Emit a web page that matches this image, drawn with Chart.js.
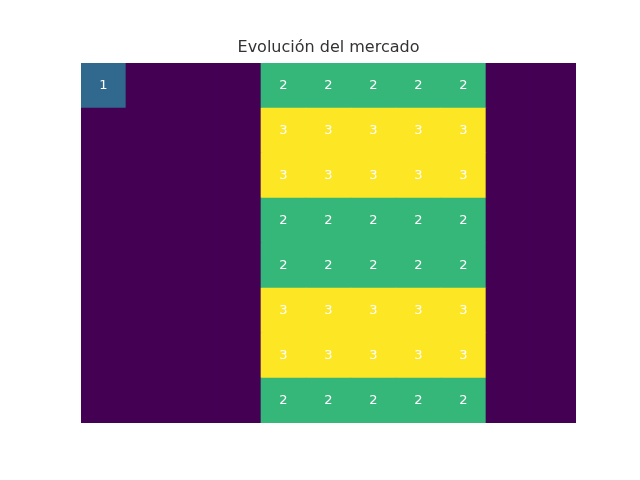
<!DOCTYPE html>
<html>
<head>
<meta charset="utf-8">
<script src="https://cdn.jsdelivr.net/npm/chart.js@4/dist/chart.umd.min.js"></script>
<style>
html,body{margin:0;padding:0;background:#fff;}
#wrap{width:640px;height:480px;}
</style>
</head>
<body>
<div id="wrap"><canvas id="c" width="640" height="480"></canvas></div>
<script>
const columns = ["0","1","2","3","4","5","6","7","8","9","10"];
const rows = ["0","1","2","3","4","5","6","7"];
const values = [
  [1,0,0,0,2,2,2,2,2,0,0],
  [0,0,0,0,3,3,3,3,3,0,0],
  [0,0,0,0,3,3,3,3,3,0,0],
  [0,0,0,0,2,2,2,2,2,0,0],
  [0,0,0,0,2,2,2,2,2,0,0],
  [0,0,0,0,3,3,3,3,3,0,0],
  [0,0,0,0,3,3,3,3,3,0,0],
  [0,0,0,0,2,2,2,2,2,0,0]
];
const palette = ["#440154","#31688e","#35b779","#fde725"];
const titleText = "Evolución del mercado";

// stacked bars: bottom row first
const datasets = rows.slice().reverse().map((r, i) => {
  const rowIdx = rows.length - 1 - i;
  const vals = values[rowIdx];
  return {
    label: "row " + r,
    data: vals.map(() => 1),
    cellValues: vals,
    backgroundColor: vals.map(v => palette[v]),
    borderWidth: 0,
    barPercentage: 1,
    categoryPercentage: 1
  };
});

const cellLabels = {
  id: 'cellLabels',
  afterDatasetsDraw(chart) {
    const ctx = chart.ctx;
    ctx.save();
    ctx.font = '13px "DejaVu Sans"';
    ctx.fillStyle = '#ffffff';
    ctx.textAlign = 'center';
    ctx.textBaseline = 'middle';
    chart.data.datasets.forEach((ds, di) => {
      const meta = chart.getDatasetMeta(di);
      meta.data.forEach((el, j) => {
        const v = ds.cellValues[j];
        if (v === 0) return;
        const cx = el.x;
        const cy = (el.y + el.base) / 2;
        ctx.fillText(String(v), cx, cy);
      });
    });
    ctx.restore();
  }
};

new Chart(document.getElementById('c'), {
  type: 'bar',
  data: { labels: columns, datasets },
  options: {
    responsive: false,
    animation: false,
    layout: { padding: { left: 81, right: 64, top: 0, bottom: 57 } },
    scales: {
      x: { display: false, stacked: true, offset: true },
      y: { display: false, stacked: true, min: 0, max: rows.length }
    },
    plugins: {
      legend: { display: false },
      tooltip: { enabled: false },
      title: {
        display: true,
        text: titleText,
        color: '#333333',
        font: { family: 'DejaVu Sans', size: 16, weight: 'normal', lineHeight: 1.2 },
        padding: { top: 38.4, bottom: 5.4 }
      }
    }
  },
  plugins: [cellLabels]
});
</script>
</body>
</html>
